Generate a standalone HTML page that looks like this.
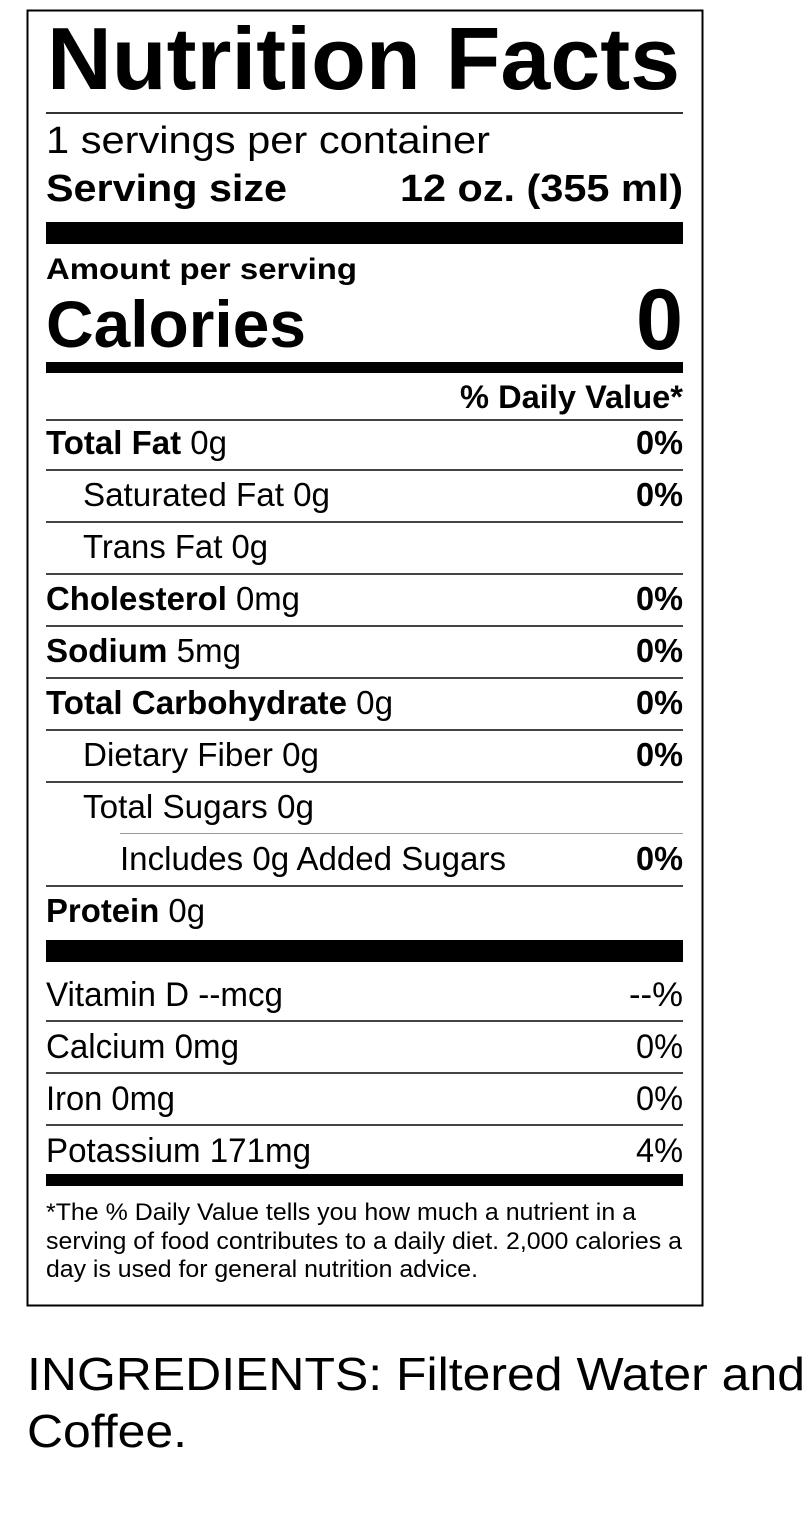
<!DOCTYPE html>
<html><head><meta charset="utf-8"><style>
html,body{margin:0;padding:0;background:#fff;}
svg{display:block;}
text{font-family:"Liberation Sans",Arial,sans-serif;fill:#000;}
.b{font-weight:bold;}
</style></head><body>
<svg width="807" height="1524" viewBox="0 0 807 1524" xmlns="http://www.w3.org/2000/svg">
<rect x="27.5" y="10.5" width="675" height="1295" fill="none" stroke="#000" stroke-width="2"/>
<text x="47" y="89" class="b" font-size="88" textLength="633" lengthAdjust="spacingAndGlyphs">Nutrition Facts</text>
<rect x="46" y="112" width="637" height="2" fill="#333"/>
<text x="46" y="153" font-size="38" textLength="444" lengthAdjust="spacingAndGlyphs">1 servings per container</text>
<text x="46" y="201" class="b" font-size="38" textLength="241" lengthAdjust="spacingAndGlyphs">Serving size</text>
<text x="683" y="201" class="b" font-size="38" text-anchor="end" textLength="283" lengthAdjust="spacingAndGlyphs">12 oz. (355 ml)</text>
<rect x="46" y="222" width="637" height="22" fill="#000"/>
<text x="46" y="279" class="b" font-size="30" textLength="311" lengthAdjust="spacingAndGlyphs">Amount per serving</text>
<text x="46" y="347" class="b" font-size="66" textLength="260" lengthAdjust="spacingAndGlyphs">Calories</text>
<text x="683" y="349" class="b" font-size="86" text-anchor="end" textLength="47" lengthAdjust="spacingAndGlyphs">0</text>
<rect x="46" y="362" width="637" height="11" fill="#000"/>
<text x="683" y="408" class="b" font-size="32" text-anchor="end" textLength="223" lengthAdjust="spacingAndGlyphs">% Daily Value*</text>
<g fill="#444">
<rect x="46" y="419" width="637" height="2"/>
<rect x="46" y="469" width="637" height="2"/>
<rect x="46" y="521" width="637" height="2"/>
<rect x="46" y="573" width="637" height="2"/>
<rect x="46" y="625" width="637" height="2"/>
<rect x="46" y="677" width="637" height="2"/>
<rect x="46" y="729" width="637" height="2"/>
<rect x="46" y="781" width="637" height="2"/>
<rect x="120" y="833" width="563" height="1" fill="#999"/>
<rect x="46" y="885" width="637" height="2"/>
</g>
<g font-size="33" lengthAdjust="spacingAndGlyphs">
<text x="46" y="454" textLength="181" lengthAdjust="spacingAndGlyphs"><tspan class="b">Total Fat</tspan> 0g</text>
<text x="683" y="454" class="b" text-anchor="end" textLength="47" lengthAdjust="spacingAndGlyphs">0%</text>
<text x="83" y="506" textLength="247" lengthAdjust="spacingAndGlyphs">Saturated Fat 0g</text>
<text x="683" y="506" class="b" text-anchor="end" textLength="47" lengthAdjust="spacingAndGlyphs">0%</text>
<text x="83" y="558" textLength="185" lengthAdjust="spacingAndGlyphs">Trans Fat 0g</text>
<text x="46" y="610" textLength="254" lengthAdjust="spacingAndGlyphs"><tspan class="b">Cholesterol</tspan> 0mg</text>
<text x="683" y="610" class="b" text-anchor="end" textLength="47" lengthAdjust="spacingAndGlyphs">0%</text>
<text x="46" y="662" textLength="195" lengthAdjust="spacingAndGlyphs"><tspan class="b">Sodium</tspan> 5mg</text>
<text x="683" y="662" class="b" text-anchor="end" textLength="47" lengthAdjust="spacingAndGlyphs">0%</text>
<text x="46" y="714" textLength="347" lengthAdjust="spacingAndGlyphs"><tspan class="b">Total Carbohydrate</tspan> 0g</text>
<text x="683" y="714" class="b" text-anchor="end" textLength="47" lengthAdjust="spacingAndGlyphs">0%</text>
<text x="83" y="766" textLength="236" lengthAdjust="spacingAndGlyphs">Dietary Fiber 0g</text>
<text x="683" y="766" class="b" text-anchor="end" textLength="47" lengthAdjust="spacingAndGlyphs">0%</text>
<text x="83" y="818" textLength="231" lengthAdjust="spacingAndGlyphs">Total Sugars 0g</text>
<text x="120" y="870" textLength="386" lengthAdjust="spacingAndGlyphs">Includes 0g Added Sugars</text>
<text x="683" y="870" class="b" text-anchor="end" textLength="47" lengthAdjust="spacingAndGlyphs">0%</text>
<text x="46" y="922" textLength="159" lengthAdjust="spacingAndGlyphs"><tspan class="b">Protein</tspan> 0g</text>
</g>
<rect x="46" y="940" width="637" height="22" fill="#000"/>
<g font-size="34">
<text x="46" y="1006" textLength="237" lengthAdjust="spacingAndGlyphs">Vitamin D --mcg</text>
<text x="683" y="1006" text-anchor="end" textLength="54" lengthAdjust="spacingAndGlyphs">--%</text>
<text x="46" y="1058" textLength="193" lengthAdjust="spacingAndGlyphs">Calcium 0mg</text>
<text x="683" y="1058" text-anchor="end" textLength="47" lengthAdjust="spacingAndGlyphs">0%</text>
<text x="46" y="1110" textLength="129" lengthAdjust="spacingAndGlyphs">Iron 0mg</text>
<text x="683" y="1110" text-anchor="end" textLength="47" lengthAdjust="spacingAndGlyphs">0%</text>
<text x="46" y="1162" textLength="265" lengthAdjust="spacingAndGlyphs">Potassium 171mg</text>
<text x="683" y="1162" text-anchor="end" textLength="47" lengthAdjust="spacingAndGlyphs">4%</text>
</g>
<rect x="46" y="1020" width="637" height="2" fill="#444"/>
<rect x="46" y="1072" width="637" height="2" fill="#444"/>
<rect x="46" y="1124" width="637" height="2" fill="#444"/>
<rect x="46" y="1174" width="637" height="12" fill="#000"/>
<g font-size="24">
<text x="46" y="1220" textLength="590" lengthAdjust="spacingAndGlyphs">*The % Daily Value tells you how much a nutrient in a</text>
<text x="46" y="1249" textLength="636" lengthAdjust="spacingAndGlyphs">serving of food contributes to a daily diet. 2,000 calories a</text>
<text x="46" y="1277" textLength="432" lengthAdjust="spacingAndGlyphs">day is used for general nutrition advice.</text>
</g>
<text x="27" y="1390" font-size="46" textLength="778" lengthAdjust="spacingAndGlyphs">INGREDIENTS: Filtered Water and</text>
<text x="27" y="1447" font-size="46" textLength="160" lengthAdjust="spacingAndGlyphs">Coffee.</text>
</svg>
</body></html>
